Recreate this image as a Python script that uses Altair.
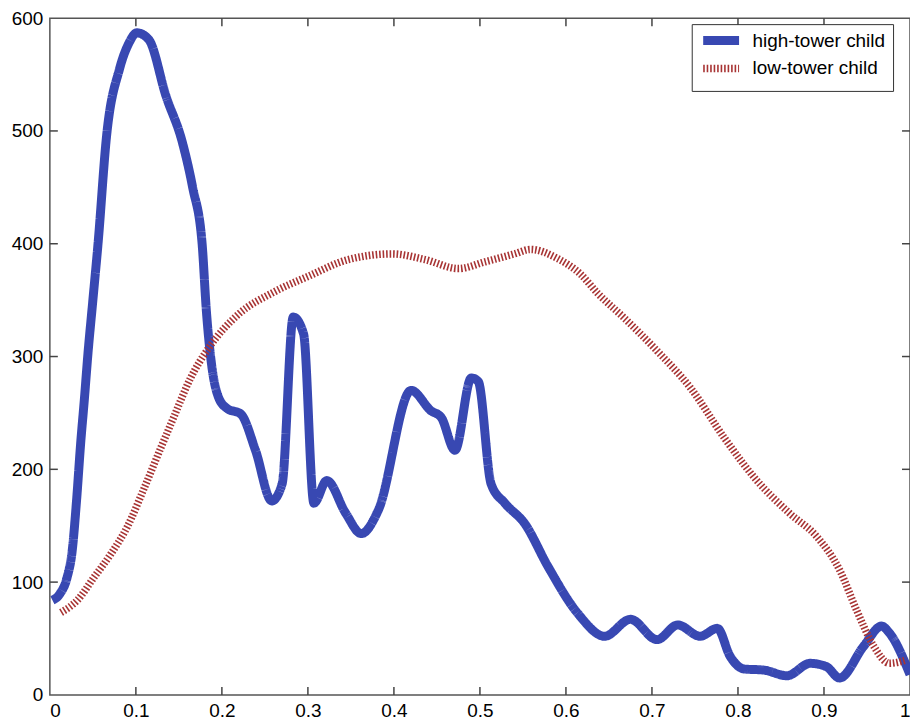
import altair as alt
import pandas as pd

series_names = ["high-tower child", "low-tower child"]

high_x = [0.003, 0.012, 0.020, 0.026, 0.031, 0.036, 0.040, 0.044, 0.050, 0.056, 0.066,
          0.081, 0.092, 0.101, 0.115, 0.135, 0.154, 0.166, 0.177, 0.182, 0.188,
          0.196, 0.206, 0.222, 0.239, 0.258, 0.270, 0.283, 0.295, 0.307, 0.322,
          0.344, 0.362, 0.382, 0.420, 0.443, 0.455, 0.471, 0.490, 0.498, 0.513,
          0.529, 0.552, 0.579, 0.614, 0.645, 0.675, 0.706, 0.730, 0.756, 0.776,
          0.791, 0.807, 0.830, 0.857, 0.884, 0.903, 0.918, 0.946, 0.967, 0.976, 1.0]
high_y = [84, 90, 104, 128, 172, 225, 261, 300, 350, 400, 496,
          555, 578, 587, 581, 531, 490, 450, 400, 340, 293,
          264, 254, 249, 217, 172, 187, 335, 320, 170, 190,
          161, 143, 164, 270, 252, 246, 217, 281, 278, 187,
          170, 152, 114, 72, 52, 67, 49, 62, 52, 59,
          34, 23, 22, 17, 28, 25, 15, 43, 61, 55, 18]

low_x = [0.013, 0.032, 0.052, 0.071, 0.090, 0.110, 0.129, 0.145, 0.163, 0.185,
         0.220, 0.260, 0.300, 0.347, 0.398, 0.436, 0.475, 0.506, 0.540, 0.559,
         0.590, 0.617, 0.637, 0.668, 0.706, 0.745, 0.784, 0.822, 0.860, 0.892,
         0.918, 0.938, 0.958, 0.976, 0.996]
low_y = [73, 84, 105, 125, 149, 184, 219, 248, 280, 308,
         338, 357, 371, 386, 391, 386, 378, 384, 391, 395,
         387, 373, 356, 334, 305, 272, 228, 190, 161, 140,
         111, 75, 43, 28, 31]

x_ticks = [0.1, 0.2, 0.3, 0.4, 0.5, 0.6, 0.7, 0.8, 0.9]
y_ticks = [100, 200, 300, 400, 500]
x_labels = [0, 0.1, 0.2, 0.3, 0.4, 0.5, 0.6, 0.7, 0.8, 0.9, 1]
y_labels = [0, 100, 200, 300, 400, 500, 600]

colors = ["#3848b2", "#a83434"]
dashes = [[1, 0], [1.6, 1.9]]
widths = [9, 7.5]

W, H = 863, 679
TICK = 8
FONT = "Liberation Sans"

df = pd.concat([
    pd.DataFrame({"x": high_x, "y": high_y, "series": series_names[0]}),
    pd.DataFrame({"x": low_x, "y": low_y, "series": series_names[1]}),
])

xscale = alt.Scale(domain=[0, 1], nice=False, zero=False)
yscale = alt.Scale(domain=[0, 600], nice=False, zero=False)
xaxis = alt.Axis(values=x_labels, format="~g", labelPadding=7, title=None)
yaxis = alt.Axis(values=y_labels, labelPadding=7, title=None)

legend = alt.Legend(
    title=None, orient="none", legendX=644, legendY=6,
    symbolType="M-2.5,0H15.5", symbolSize=16, symbolStrokeWidth=8,
    labelFont=FONT, labelFontSize=19, labelColor="black", labelOffset=35,
    labelExpr="datum.label + '        '",
    strokeColor="#333333", fillColor="white", padding=7, rowPadding=-13,
    labelLimit=400,
)

lines = alt.Chart(df).mark_line(interpolate="monotone", clip=True).encode(
    x=alt.X("x:Q", scale=xscale, axis=xaxis),
    y=alt.Y("y:Q", scale=yscale, axis=yaxis),
    color=alt.Color("series:N", scale=alt.Scale(domain=series_names, range=colors), legend=legend),
    strokeDash=alt.StrokeDash("series:N", scale=alt.Scale(domain=series_names, range=dashes), legend=legend),
    strokeWidth=alt.StrokeWidth("series:N", scale=alt.Scale(domain=series_names, range=widths), legend=None),
)

xt = pd.DataFrame({"x": x_ticks})
yt = pd.DataFrame({"y": y_ticks})
tick_style = dict(color="#444444", strokeWidth=1.5)

bottom_ticks = alt.Chart(xt).mark_rule(**tick_style).encode(
    x=alt.X("x:Q", scale=xscale, axis=xaxis), y=alt.value(H), y2=alt.value(H - TICK))
top_ticks = alt.Chart(xt).mark_rule(**tick_style).encode(
    x=alt.X("x:Q", scale=xscale, axis=xaxis), y=alt.value(0), y2=alt.value(TICK))
left_ticks = alt.Chart(yt).mark_rule(**tick_style).encode(
    y=alt.Y("y:Q", scale=yscale, axis=yaxis), x=alt.value(0), x2=alt.value(TICK))
right_ticks = alt.Chart(yt).mark_rule(**tick_style).encode(
    y=alt.Y("y:Q", scale=yscale, axis=yaxis), x=alt.value(W), x2=alt.value(W - TICK))

chart = alt.layer(lines, bottom_ticks, top_ticks, left_ticks, right_ticks).properties(
    width=W, height=H,
    autosize=alt.AutoSizeParams(type="none"),
    padding={"left": 42, "top": 9, "right": 0, "bottom": 25},
    background="white",
).configure_view(
    stroke="#555555", strokeWidth=1.5
).configure_axis(
    domain=False, ticks=False, grid=False,
    labelFont=FONT, labelFontSize=19, labelColor="black",
)

chart.save("out.html", embed_options={"renderer": "svg", "actions": False})
